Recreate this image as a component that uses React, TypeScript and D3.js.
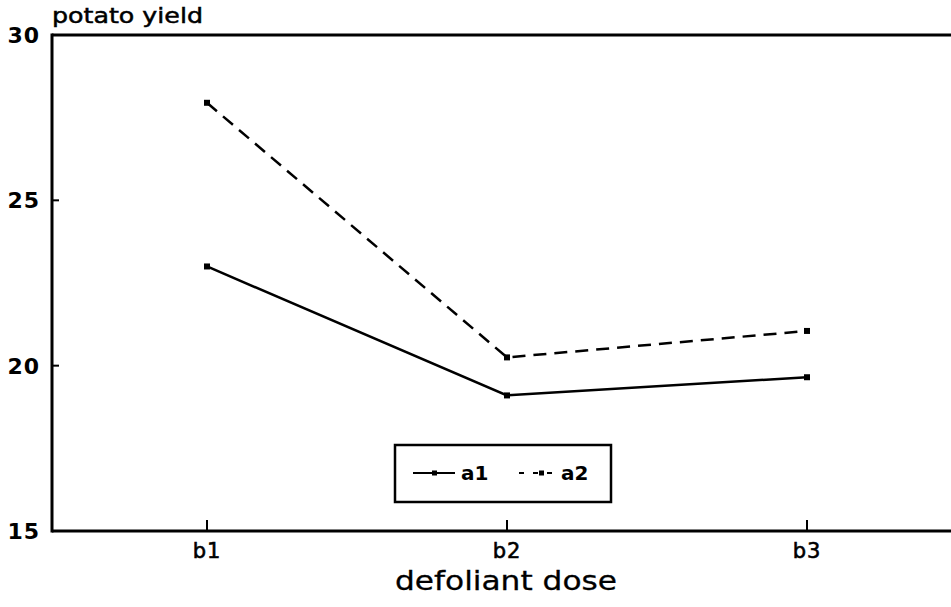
import * as React from "react"
import * as d3 from "d3"

const WIDTH = 951
const HEIGHT = 607

const doses = ["b1", "b2", "b3"]
const yTicks = [15, 20, 25, 30]
const a1 = [23.0, 19.1, 19.65]
const a2 = [27.95, 20.25, 21.05]

const series = [
  { name: "a1", values: a1, dash: null },
  { name: "a2", values: a2, dash: "13,8" },
]

const FONT = "'DejaVu Sans', Arial, sans-serif"

const App = () => {
  const left = 52
  const top = 35
  const bottom = 531

  const x = d3.scalePoint<string>().domain(doses).range([207, 807])
  const y = d3.scaleLinear().domain([15, 30]).range([bottom, top])

  const line = d3
    .line<number>()
    .x((d, i) => x(doses[i]) as number)
    .y(d => y(d))

  return (
    <svg width={WIDTH} height={HEIGHT} style={{ position: "absolute", left: 0, top: 0, background: "#fff" }}>
      <g fontFamily={FONT} fill="#000">
        {/* frame: left, top, bottom */}
        <line x1={left} x2={WIDTH} y1={top} y2={top} stroke="#000" strokeWidth={3} />
        <line x1={left} x2={left} y1={top - 1.5} y2={bottom + 1.5} stroke="#000" strokeWidth={3} />
        <line x1={left} x2={WIDTH} y1={bottom} y2={bottom} stroke="#000" strokeWidth={3} />

        {yTicks.map(t => (
          <g key={t}>
            {t !== 15 && t !== 30 && (
              <line x1={left} x2={left + 7} y1={y(t)} y2={y(t)} stroke="#000" strokeWidth={2} />
            )}
            <text x={40} y={y(t)} dy="0.36em" textAnchor="end" fontSize={22} fontWeight="bold" letterSpacing={1}>
              {t}
            </text>
          </g>
        ))}

        {doses.map(d => (
          <g key={d}>
            <line x1={x(d)} x2={x(d)} y1={bottom} y2={bottom - 11} stroke="#000" strokeWidth={2} />
            <text x={x(d)} y={558} textAnchor="middle" fontSize={21} stroke="#000" strokeWidth={0.6} letterSpacing={1}>
              {d}
            </text>
          </g>
        ))}

        <text x={52} y={23} fontSize={21} stroke="#000" strokeWidth={0.5} textLength={151} lengthAdjust="spacingAndGlyphs">
          potato yield
        </text>
        <text x={506} y={590} textAnchor="middle" fontSize={26} stroke="#000" strokeWidth={0.3} textLength={222} lengthAdjust="spacingAndGlyphs">
          defoliant dose
        </text>

        {series.map(s => (
          <g key={s.name}>
            <path
              d={line(s.values) as string}
              fill="none"
              stroke="#000"
              strokeWidth={2.5}
              strokeDasharray={s.dash ?? undefined}
            />
            {s.values.map((v, i) => (
              <rect key={i} x={(x(doses[i]) as number) - 3} y={y(v) - 3} width={6} height={6} fill="#000" />
            ))}
          </g>
        ))}

        {/* legend */}
        <rect x={395} y={445} width={216} height={57} fill="#fff" stroke="#000" strokeWidth={2.5} />
        <line x1={413} x2={455} y1={473} y2={473} stroke="#000" strokeWidth={2} />
        <rect x={432} y={470.5} width={5} height={5} fill="#000" />
        <text x={461} y={473} dy="0.36em" fontSize={20} fontWeight="bold">
          a1
        </text>
        <line x1={519} x2={557} y1={473} y2={473} stroke="#000" strokeWidth={2} strokeDasharray="5,9" />
        <rect x={539} y={470.5} width={5} height={5} fill="#000" />
        <text x={561} y={473} dy="0.36em" fontSize={20} fontWeight="bold">
          a2
        </text>
      </g>
    </svg>
  )
}

export default App
